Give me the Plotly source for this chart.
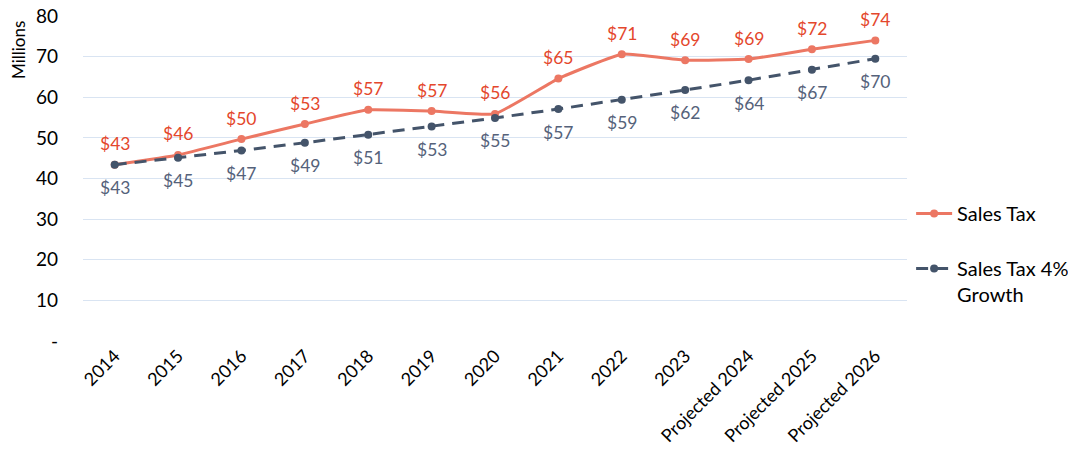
import plotly.graph_objects as go

categories = ["2014", "2015", "2016", "2017", "2018", "2019", "2020", "2021", "2022", "2023",
              "Projected 2024", "Projected 2025", "Projected 2026"]
sales_tax = [43.4, 45.8, 49.7, 53.4, 56.9, 56.6, 55.9, 64.6, 70.6, 69.1, 69.4, 71.8, 74.0]
growth_4pct = [43.4, 45.1, 46.9, 48.8, 50.8, 52.8, 54.9, 57.1, 59.4, 61.8, 64.2, 66.8, 69.5]
y_ticks = [0, 10, 20, 30, 40, 50, 60, 70, 80]
y_ticktext = ["-", "10", "20", "30", "40", "50", "60", "70", "80"]

FONT = "Lato, Carlito, 'Open Sans', sans-serif"
RED_LINE = "#EC7763"
RED_TEXT = "#E4472C"
SLATE_LINE = "#44546A"
SLATE_TEXT = "#55627A"

xpos = list(range(len(categories)))

fig = go.Figure()
fig.add_trace(go.Scatter(
    x=xpos, y=sales_tax, name="Sales Tax", mode="lines+markers", legendgroup="a",
    line=dict(color=RED_LINE, width=3, shape="spline", smoothing=0.35),
    marker=dict(color=RED_LINE, size=8),
))
fig.add_trace(go.Scatter(
    x=xpos, y=growth_4pct, name="Sales Tax 4%<br>Growth", mode="lines+markers", legendgroup="b",
    line=dict(color=SLATE_LINE, width=3, dash="12px,8px"),
    marker=dict(color=SLATE_LINE, size=8),
))

annotations = []
for i, v in zip(xpos, sales_tax):
    annotations.append(dict(x=i, y=v, text=f"${round(v)}", showarrow=False, yshift=21,
                            font=dict(family=FONT, size=17.5, color=RED_TEXT)))
for i, v in zip(xpos, growth_4pct):
    annotations.append(dict(x=i, y=v, text=f"${round(v)}", showarrow=False, yshift=-23,
                            font=dict(family=FONT, size=17.5, color=SLATE_TEXT)))
annotations.append(dict(x=0, xref="paper", xanchor="center", xshift=-65,
                        y=1, yref="paper", yanchor="top", yshift=-3,
                        text="Millions", textangle=-90, showarrow=False,
                        font=dict(family=FONT, size=17, color="#000000")))

fig.update_layout(
    width=1068, height=466,
    margin=dict(l=83, r=161, t=16, b=125, autoexpand=False),
    plot_bgcolor="white", paper_bgcolor="white",
    font=dict(family=FONT, color="#000000"),
    showlegend=True,
    legend=dict(x=1.005, y=0.452, xanchor="left", yanchor="top", valign="top",
                font=dict(family=FONT, size=20, color="#000000"),
                tracegroupgap=26, itemwidth=36, bgcolor="rgba(0,0,0,0)"),
    annotations=annotations,
)
fig.update_xaxes(range=[-0.5, len(categories) - 0.5], tickvals=xpos, ticktext=categories,
                 tickangle=-45, showgrid=False, showline=False, zeroline=False,
                 ticks="", automargin=False,
                 tickfont=dict(family=FONT, size=18, color="#000000"))
fig.update_yaxes(range=[0, 80], tickvals=y_ticks, ticktext=y_ticktext,
                 showgrid=True, gridcolor="#D9E4F2", gridwidth=1, zeroline=False,
                 showline=False, ticks="", ticklabelstandoff=24, automargin=False,
                 tickfont=dict(family=FONT, size=19, color="#000000"))

fig.write_html("out.html", config={"displayModeBar": False},
               post_script="document.body.style.margin='0';document.body.style.overflow='hidden';")
